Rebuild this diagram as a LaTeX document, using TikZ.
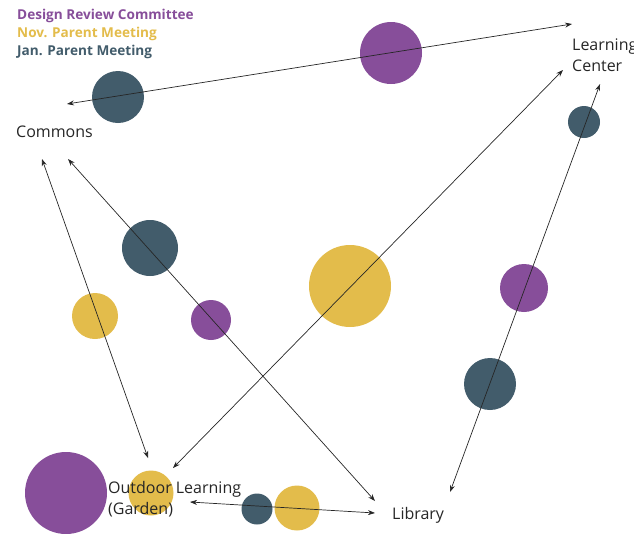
\documentclass[tikz,border=0pt]{standalone}
\usepackage{fontspec}
\setmainfont{Open Sans}
\usetikzlibrary{arrows.meta}
\definecolor{cpurple}{HTML}{874E9A}
\definecolor{cyellow}{HTML}{E3BC4B}
\definecolor{cdark}{HTML}{425C6B}
\tikzset{
  link/.style={{Stealth[length=7pt,width=5pt]}-{Stealth[length=7pt,width=5pt]},line width=0.7pt,black!85},
  place/.style={font=\fontsize{16}{21}\selectfont,text=black!85,inner sep=0pt,anchor=west,align=left},
  legend/.style={font=\fontsize{13.6}{15}\selectfont\bfseries,inner sep=0pt,anchor=west}
}
\begin{document}
\begin{tikzpicture}[x=1pt,y=-1pt]
\useasboundingbox (0,0) rectangle (634,533);
\clip (0,0) rectangle (634,533);
% bubbles
\fill[cpurple] (391,53) circle (31);
\fill[cdark] (118,97) circle (26);
\fill[cdark] (584,122) circle (16);
\fill[cdark] (150,248) circle (28);
\fill[cyellow] (350,286) circle (41);
\fill[cpurple] (524,288) circle (24);
\fill[cyellow] (95,316) circle (23);
\fill[cpurple] (211,320) circle (20);
\fill[cdark] (490,384) circle (26);
\fill[cpurple] (66,493) circle (41);
\fill[cyellow] (151,493) circle (22.5);
\fill[cdark] (257,509) circle (15.5);
\fill[cyellow] (297,508) circle (22.5);
% legend
\node[legend,text=cpurple] (l1) at (17,16) {Design Review Committee};
\node[legend,text=cyellow] (l2) at (17,34) {Nov. Parent Meeting};
\node[legend,text=cdark] (l3) at (17,52) {Jan. Parent Meeting};
% places
\node[place] (commons) at (16,132) {Commons};
\node[place] (lc) at (572,55) {Learning\\Center};
\node[place] (outdoor) at (108,499) {Outdoor Learning\\(Garden)};
\node[place] (library) at (392,515) {Library};
% endpoints
\coordinate (cA) at (67,104);
\coordinate (cB) at (42,159);
\coordinate (cC) at (68,159);
\coordinate (lA) at (572,24);
\coordinate (lD) at (563,70);
\coordinate (lF) at (600,84);
\coordinate (oB) at (148,458);
\coordinate (oD) at (173,468);
\coordinate (oE) at (190,502);
\coordinate (bC) at (375,501);
\coordinate (bE) at (375,513);
\coordinate (bF) at (450,492);
% connectors
\draw[link] (cA) -- (lA);
\draw[link] (cB) -- (oB);
\draw[link] (cC) -- (bC);
\draw[link] (oD) -- (lD);
\draw[link] (oE) -- (bE);
\draw[link] (bF) -- (lF);
\end{tikzpicture}
\end{document}
